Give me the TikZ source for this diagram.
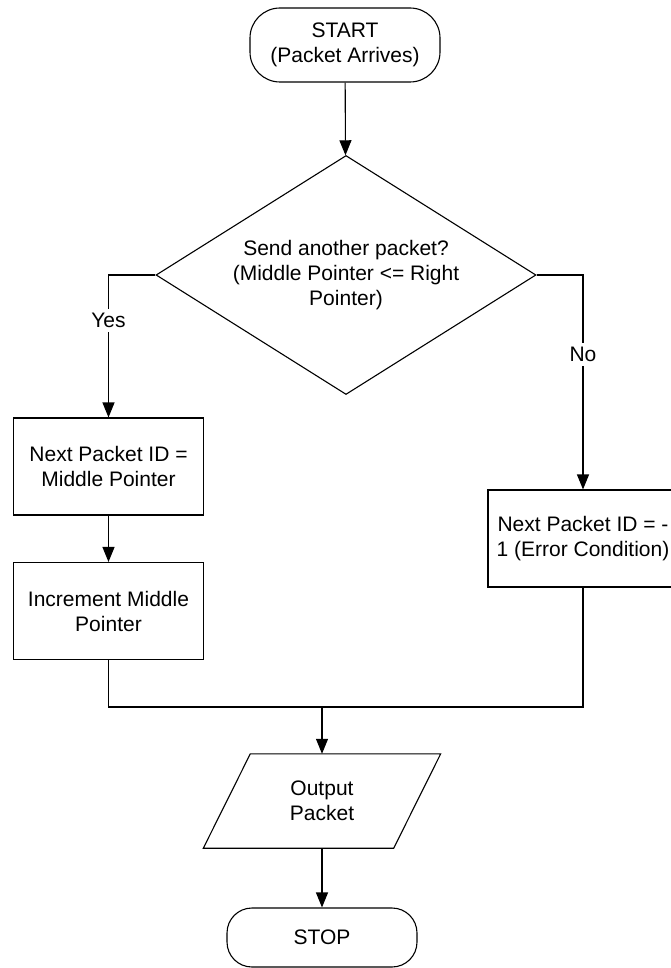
\documentclass[tikz,border=0pt]{standalone}
\usepackage{fontspec}
\setmainfont{Liberation Sans}
\usetikzlibrary{shapes.geometric, arrows.meta, calc}

\tikzset{
  line/.style={draw, line width=1.1pt},
  arrow/.style={line, -{Triangle[length=15pt, width=12pt]}},
  txt/.style={align=center, font=\fontsize{21}{25}\selectfont},
  term/.style={txt, draw, line width=1.1pt, minimum width=190},
  proc/.style={txt, draw, line width=1.1pt, minimum width=190, minimum height=97},
  decision/.style={txt, diamond, draw, line width=1.1pt, aspect=1.6, inner sep=0pt,
    minimum width=380, minimum height=239},
  lbl/.style={txt, fill=white, inner sep=4pt}
}

\begin{document}
\begin{tikzpicture}[x=1pt, y=-1pt]
  \useasboundingbox (0,0) rectangle (671,968);

  % Terminals
  \node (start) [term, rounded corners=30pt, minimum height=74] at (345,45)
    {START\\(Packet Arrives)};
  \node (stop) [term, rounded corners=25pt, minimum height=59] at (322,937.5) {STOP};

  % Decision
  \node (dec) [decision] at (346,275)
    {Send another packet?\\(Middle Pointer <= Right\\Pointer)};

  % Process boxes
  \node (next) [proc] at (108.5,466.5) {Next Packet ID =\\Middle Pointer};
  \node (incr) [proc] at (108.5,611) {Increment Middle\\Pointer};
  \node (err)  [proc] at (583,538.5) {Next Packet ID = -\\1 (Error Condition)};

  % Output (parallelogram drawn round the node)
  \node (out) [txt, minimum width=190, minimum height=94] at (322,801) {Output\\Packet};
  \draw[line] ($(out.north west)+(23.5,0)$) -- ($(out.north east)+(23.5,0)$)
    -- ($(out.south east)+(-23.5,0)$) -- ($(out.south west)+(-23.5,0)$) -- cycle;

  % Join point
  \coordinate (join) at (322,707);

  % Connectors
  \draw[arrow] (start) -- (dec);
  \draw[arrow] (dec.west) -| node[lbl, pos=0.66] {Yes} (next.north);
  \draw[arrow] (dec.east) -| node[lbl, pos=0.686] {No} (err.north);
  \draw[arrow] (next) -- (incr);
  \draw[line] (incr.south) |- (join);
  \draw[line] (err.south) |- (join);
  \draw[arrow] (join) -- (out.north);
  \draw[arrow] (out.south) -- (stop.north);
\end{tikzpicture}
\end{document}
